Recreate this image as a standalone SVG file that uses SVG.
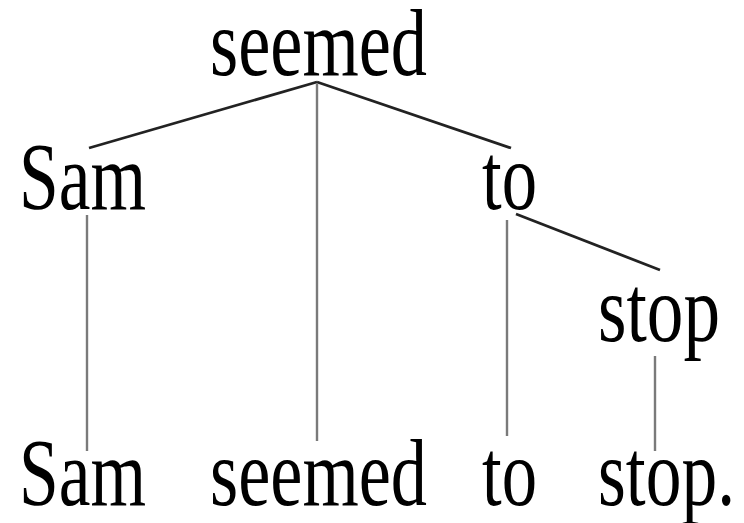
<svg xmlns="http://www.w3.org/2000/svg" width="744" height="523" viewBox="0 0 744 523">
<style>
text{font-family:"Liberation Serif","Times New Roman",serif;font-size:95px;fill:#000}
.dep{stroke:#222;stroke-width:2.8;fill:none}
.proj{stroke:#7a7a7a;stroke-width:2.4;fill:none}
</style>
<rect width="744" height="523" fill="#fff"/>
<g id="connectors">
<line class="dep" x1="317" y1="82" x2="89" y2="148"/>
<line class="dep" x1="317" y1="82" x2="511" y2="148"/>
<line class="dep" x1="516" y1="214" x2="660" y2="270"/>
<line class="proj" x1="317" y1="84" x2="317" y2="441"/>
<line class="proj" x1="87" y1="215" x2="87" y2="451"/>
<line class="proj" x1="507" y1="220" x2="507" y2="436"/>
<line class="proj" x1="655" y1="356" x2="655" y2="451"/>
</g>
<g id="n-seemed"><text x="210" y="75" textLength="217" lengthAdjust="spacingAndGlyphs">seemed</text></g>
<g id="n-sam"><text x="19" y="209" textLength="127" lengthAdjust="spacingAndGlyphs">Sam</text></g>
<g id="n-to"><text x="482" y="209" textLength="55" lengthAdjust="spacingAndGlyphs">to</text></g>
<g id="n-stop"><text x="598" y="341" textLength="122" lengthAdjust="spacingAndGlyphs">stop</text></g>
<g id="w-sam"><text x="19" y="505" textLength="127" lengthAdjust="spacingAndGlyphs">Sam</text></g>
<g id="w-seemed"><text x="210" y="505" textLength="217" lengthAdjust="spacingAndGlyphs">seemed</text></g>
<g id="w-to"><text x="482" y="505" textLength="55" lengthAdjust="spacingAndGlyphs">to</text></g>
<g id="w-stop"><text x="598" y="505" textLength="137" lengthAdjust="spacingAndGlyphs">stop.</text></g>
</svg>
